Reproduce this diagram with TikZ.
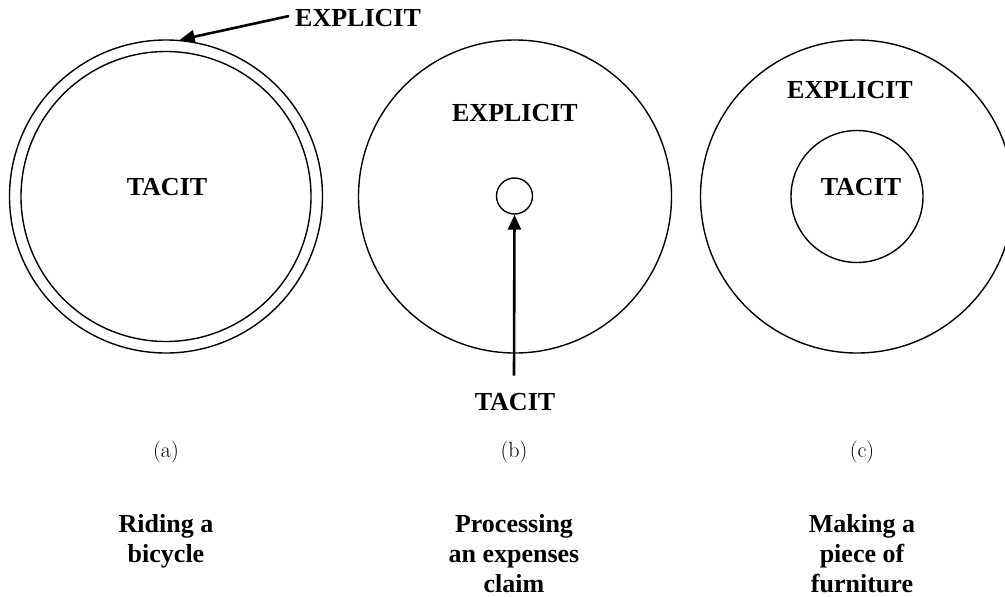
\documentclass[tikz,border=0pt]{standalone}
\usepackage{fontspec}
\newfontfamily\tnr{Liberation Serif}
\usetikzlibrary{arrows.meta}
\begin{document}
\begin{tikzpicture}[x=1pt,y=-1pt,
  ring/.style={draw,circle,line width=1.4pt,inner sep=0pt},
  lbl/.style={font=\tnr\bfseries\fontsize{26}{30}\selectfont,inner sep=0pt},
  sublbl/.style={font=\fontsize{22}{26}\selectfont,inner sep=0pt},
  caption/.style={font=\tnr\bfseries\fontsize{26}{30}\selectfont,inner sep=0pt,align=center,anchor=north},
  pointer/.style={line width=2.6pt,-{Triangle[length=15pt,width=13pt]}}]
\clip (0,0) rectangle (1005,597);
\fill[white] (0,0) rectangle (1005,597);
% (a)
\node[ring,minimum size=313pt] (outerA) at (166,196.5) {};
\node[ring,minimum size=290pt] (innerA) at (166,196.5) {};
\node[lbl] (tacitA) at (167,187) {TACIT};
\node[lbl,anchor=west] (explA) at (295,18) {EXPLICIT};
\draw[pointer] ([xshift=-6pt,yshift=2pt]explA.west) -- (outerA.85);
% (b)
\node[ring,minimum size=313pt] (outerB) at (515,196.5) {};
\node[ring,minimum size=36pt] (smallB) at (514.5,196) {};
\node[lbl] (explB) at (515,113) {EXPLICIT};
\node[lbl] (tacitB) at (515,402.5) {TACIT};
\draw[pointer] ([xshift=-1pt,yshift=18pt]tacitB.north) -- (smallB.south);
% (c)
\node[ring,minimum size=313pt] (outerC) at (857,196.5) {};
\node[ring,minimum size=132pt] (innerC) at (857,196.5) {};
\node[lbl] (explC) at (850,90) {EXPLICIT};
\node[lbl] (tacitC) at (861,187) {TACIT};
% sub-labels
\node[sublbl] (subA) at (166,452) {(a)};
\node[sublbl] (subB) at (514,452) {(b)};
\node[sublbl] (subC) at (862,452) {(c)};
% captions
\node[caption] (capA) at (166,514) {Riding a\\bicycle};
\node[caption] (capB) at (514,514) {Processing\\an expenses\\claim};
\node[caption] (capC) at (862,514) {Making a\\piece of\\furniture};
\end{tikzpicture}
\end{document}
